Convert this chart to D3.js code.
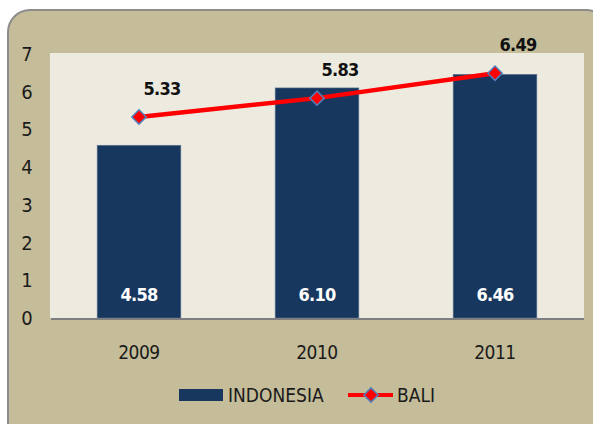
<!DOCTYPE html>
<html>
<head>
<meta charset="utf-8">
<script src="https://cdn.jsdelivr.net/npm/d3@7"></script>
<style>
  body { margin: 0; background: #ffffff; }
  text { font-family: 'Liberation Sans Narrow', 'DejaVu Sans Condensed', sans-serif; }
</style>
</head>
<body>
<div id="chart"></div>
<script>
var years = ['2009', '2010', '2011'];
var indonesia = [4.58, 6.10, 6.46];
var bali = [5.33, 5.83, 6.49];
var yTicks = [0, 1, 2, 3, 4, 5, 6, 7];

var width = 593, height = 424;

var svg = d3.select('#chart').append('svg')
    .attr('width', width)
    .attr('height', height);

// frame
svg.append('rect')
    .attr('x', 8).attr('y', 10)
    .attr('width', 600).attr('height', 440)
    .attr('rx', 22).attr('ry', 22)
    .attr('fill', '#c5bd99')
    .attr('stroke', '#8c8c8c')
    .attr('stroke-width', 2);

var plot = { left: 50, right: 584, top: 53, bottom: 318 };

svg.append('rect')
    .attr('x', plot.left).attr('y', plot.top)
    .attr('width', plot.right - plot.left)
    .attr('height', plot.bottom - plot.top)
    .attr('fill', '#edeae0');

var x = d3.scaleBand()
    .domain(years)
    .range([plot.left, plot.right])
    .paddingInner(0.53)
    .paddingOuter(0.265);

var y = d3.scaleLinear()
    .domain([0, 7])
    .range([plot.bottom, plot.top + 1]);

// bars
svg.selectAll('.bar')
    .data(indonesia)
    .enter()
    .append('rect')
    .attr('class', 'bar')
    .attr('x', function(d, i) { return x(years[i]); })
    .attr('y', function(d) { return y(d); })
    .attr('width', x.bandwidth())
    .attr('height', function(d) { return y(0) - y(d); })
    .attr('fill', '#17375e')
    .attr('stroke', '#5f7590')
    .attr('stroke-width', 0.6);

svg.selectAll('.barlabel')
    .data(indonesia)
    .enter()
    .append('text')
    .attr('x', function(d, i) { return x(years[i]) + x.bandwidth() / 2; })
    .attr('y', y(0) - 17)
    .attr('text-anchor', 'middle')
    .attr('font-size', '18px')
    .attr('font-weight', 'bold')
    .attr('letter-spacing', '-0.8px')
    .attr('fill', '#ffffff')
    .text(function(d) { return d.toFixed(2); });

// baseline
svg.append('line')
    .attr('x1', plot.left + 1).attr('x2', plot.right)
    .attr('y1', plot.bottom + 1).attr('y2', plot.bottom + 1)
    .attr('stroke', '#7f7f7f')
    .attr('stroke-width', 2);

// y axis labels
svg.selectAll('.ytick')
    .data(yTicks)
    .enter()
    .append('text')
    .attr('x', 27)
    .attr('y', function(d) { return y(d) + 7; })
    .attr('text-anchor', 'middle')
    .attr('font-size', '20px')
    .attr('fill', '#1a1a1a')
    .text(function(d) { return d; });

// x axis labels
svg.selectAll('.xtick')
    .data(years)
    .enter()
    .append('text')
    .attr('x', function(d) { return x(d) + x.bandwidth() / 2; })
    .attr('y', 359)
    .attr('text-anchor', 'middle')
    .attr('font-size', '19px')
    .attr('letter-spacing', '-0.5px')
    .attr('fill', '#1a1a1a')
    .text(function(d) { return d; });

// bali line
var line = d3.line()
    .x(function(d, i) { return x(years[i]) + x.bandwidth() / 2; })
    .y(function(d) { return y(d); });

svg.append('path')
    .datum(bali)
    .attr('d', line)
    .attr('fill', 'none')
    .attr('stroke', '#ff0000')
    .attr('stroke-width', 4.5);

var diamond = d3.symbol().type(d3.symbolDiamond2).size(130);

svg.selectAll('.marker')
    .data(bali)
    .enter()
    .append('path')
    .attr('d', diamond)
    .attr('transform', function(d, i) {
        return 'translate(' + (x(years[i]) + x.bandwidth() / 2) + ',' + y(d) + ')';
    })
    .attr('fill', '#ff0000')
    .attr('stroke', '#4f81bd')
    .attr('stroke-width', 1.5);

svg.selectAll('.linelabel')
    .data(bali)
    .enter()
    .append('text')
    .attr('x', function(d, i) { return x(years[i]) + x.bandwidth() / 2 + 23; })
    .attr('y', function(d) { return y(d) - 22; })
    .attr('text-anchor', 'middle')
    .attr('font-size', '18px')
    .attr('font-weight', 'bold')
    .attr('letter-spacing', '-0.8px')
    .attr('fill', '#111111')
    .text(function(d) { return d.toFixed(2); });

// legend
var legend = svg.append('g');
legend.append('rect')
    .attr('x', 179).attr('y', 389)
    .attr('width', 44).attr('height', 12)
    .attr('fill', '#17375e');
legend.append('text')
    .attr('x', 228).attr('y', 402)
    .attr('font-size', '19px')
    .attr('fill', '#1a1a1a')
    .text('INDONESIA');
legend.append('line')
    .attr('x1', 348).attr('x2', 393)
    .attr('y1', 395).attr('y2', 395)
    .attr('stroke', '#ff0000')
    .attr('stroke-width', 4);
legend.append('path')
    .attr('d', diamond)
    .attr('transform', 'translate(371,395)')
    .attr('fill', '#ff0000')
    .attr('stroke', '#4f81bd')
    .attr('stroke-width', 1.5);
legend.append('text')
    .attr('x', 397).attr('y', 402)
    .attr('font-size', '19px')
    .attr('fill', '#1a1a1a')
    .text('BALI');
</script>
</body>
</html>
